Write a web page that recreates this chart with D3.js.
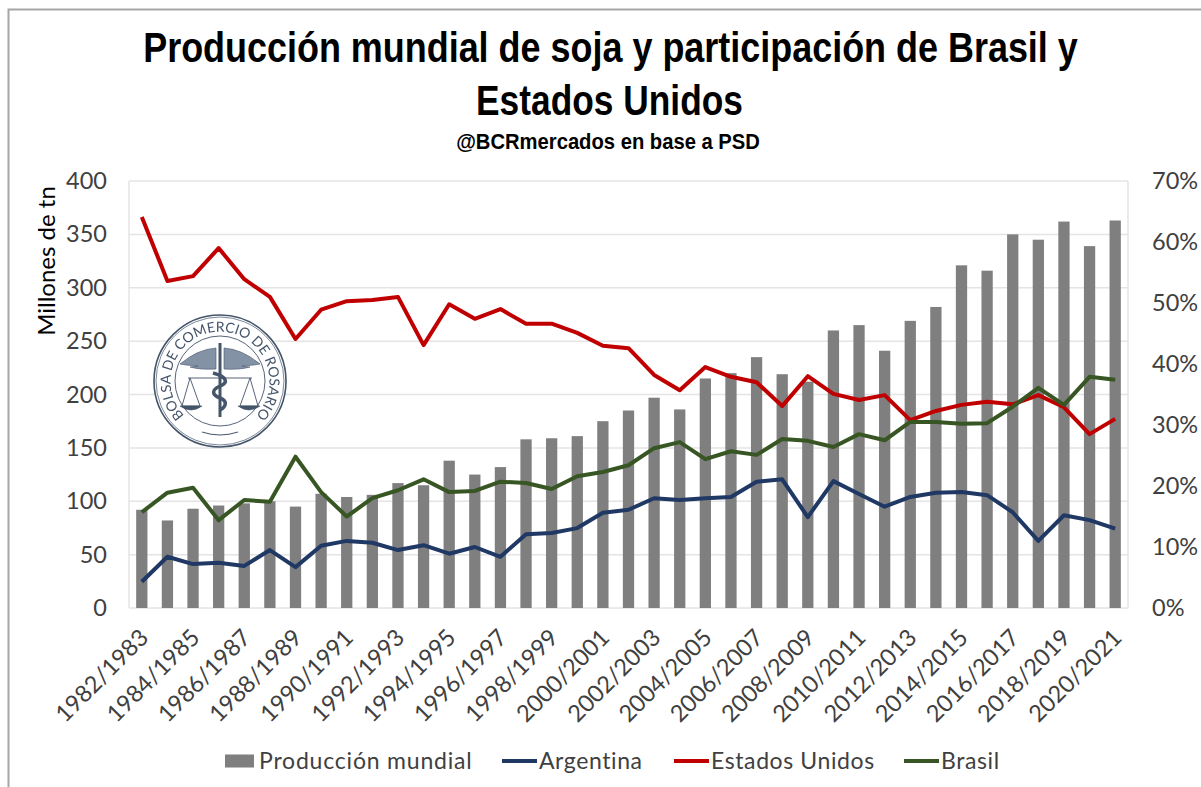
<!DOCTYPE html>
<html>
<head>
<meta charset="utf-8">
<script src="https://cdn.jsdelivr.net/npm/d3@7"></script>
<style>
	body { margin: 0; background: #fff; }
	text { font-family: "Lato", "Open Sans", sans-serif; }
	.title { font-family: "Liberation Sans", sans-serif; font-weight: bold; fill: #000; }
	.axis path, .axis line { display: none; }
	.axis text { font-size: 23.5px; font-family: "Lato", sans-serif; fill: #404040; }
</style>
</head>
<body>
<div id="chart"></div>
<script>
// season labels, one for each bar
var seasons = ["1982/1983","1983/1984","1984/1985","1985/1986","1986/1987","1987/1988","1988/1989","1989/1990","1990/1991","1991/1992","1992/1993","1993/1994","1994/1995","1995/1996","1996/1997","1997/1998","1998/1999","1999/2000","2000/2001","2001/2002","2002/2003","2003/2004","2004/2005","2005/2006","2006/2007","2007/2008","2008/2009","2009/2010","2010/2011","2011/2012","2012/2013","2013/2014","2014/2015","2015/2016","2016/2017","2017/2018","2018/2019","2019/2020","2020/2021"];

// millones de tn
var produccion = [92,82,93,96,98,100,95,107,104,106,117,115,138,125,132,158,159,161,175,185,197,186,215,220,235,219,212,260,265,241,269,282,321,316,350,345,362,339,363];

// participacion, %
var argentina = [4.3,8.4,7.2,7.4,6.9,9.5,6.7,10.2,11.0,10.7,9.5,10.3,8.9,10.0,8.4,12.1,12.3,13.1,15.6,16.1,18.0,17.7,18.0,18.2,20.7,21.1,14.9,20.8,18.7,16.6,18.2,18.9,19.0,18.5,15.7,11.0,15.2,14.4,13.0];
var estadosUnidos = [64.1,53.6,54.4,59.0,53.9,51.0,44.1,48.9,50.3,50.5,51.0,43.1,49.8,47.4,49.0,46.6,46.6,45.1,43.0,42.6,38.2,35.7,39.5,37.9,37.0,33.1,38.0,35.1,34.1,34.9,30.8,32.3,33.3,33.8,33.4,34.9,32.9,28.5,31.0];
var brasil = [15.7,18.9,19.7,14.4,17.7,17.4,24.8,19.0,15.0,18.0,19.3,21.1,19.0,19.2,20.7,20.5,19.5,21.6,22.3,23.4,26.2,27.2,24.4,25.7,25.1,27.7,27.4,26.4,28.5,27.5,30.5,30.5,30.2,30.3,33.0,36.1,33.3,37.9,37.4];

var leftTicks = [0,50,100,150,200,250,300,350,400];
var rightTicks = [0,10,20,30,40,50,60,70];

var lineSeries = [
	{ name: "Argentina", values: argentina, color: "#1f3864" },
	{ name: "Estados Unidos", values: estadosUnidos, color: "#c00000" },
	{ name: "Brasil", values: brasil, color: "#375623" }
];

var width = 1201, height = 787;
var margin = { top: 181, right: 73, bottom: 179, left: 129 };

var svg = d3.select("#chart").append("svg")
	.attr("width", width)
	.attr("height", height)
	.style("display", "block");

// frame of the pasted picture
svg.append("path")
	.attr("d", "M8.5,787V9.5H1201")
	.attr("fill", "none")
	.attr("stroke", "#a6a6a6")
	.attr("stroke-width", 2);

// titles, squeezed sideways because there is no narrow font here
function addTitle(label, cx, y, size, wanted) {
	var t = svg.append("text").attr("class", "title")
		.attr("text-anchor", "middle")
		.style("font-size", size + "px")
		.text(label);
	var squeeze = wanted / t.node().getComputedTextLength();
	t.attr("transform", "translate(" + cx + "," + y + ") scale(" + squeeze + ",1)");
}
addTitle("Producción mundial de soja y participación de Brasil y", 610.5, 62, 42, 935);
addTitle("Estados Unidos", 609.5, 115, 42, 267);
addTitle("@BCRmercados  en base a PSD", 608, 149, 22, 304);

// scales
var x = d3.scaleBand()
	.domain(seasons)
	.range([margin.left, width - margin.right])
	.paddingInner(0.56)
	.paddingOuter(0.28);

var yLeft = d3.scaleLinear().domain([0, 400]).range([height - margin.bottom, margin.top]);
var yRight = d3.scaleLinear().domain([0, 70]).range([height - margin.bottom, margin.top]);

// gridlines
svg.selectAll(".grid").data(leftTicks).enter()
	.append("line").attr("class", "grid")
	.attr("x1", margin.left)
	.attr("x2", width - margin.right)
	.attr("y1", function(d){ return yLeft(d); })
	.attr("y2", function(d){ return yLeft(d); })
	.attr("stroke", "#e4e4e4")
	.attr("stroke-width", 1.5);

svg.selectAll(".side").data([margin.left, width - margin.right]).enter()
	.append("line").attr("class", "side")
	.attr("x1", function(d){ return d; })
	.attr("x2", function(d){ return d; })
	.attr("y1", margin.top)
	.attr("y2", height - margin.bottom)
	.attr("stroke", "#e4e4e4")
	.attr("stroke-width", 1.5);

// seal of the Bolsa, drawn by hand and a bit soft like the pasted logo
var defs = svg.append("defs");
defs.append("filter").attr("id", "soft").append("feGaussianBlur").attr("stdDeviation", 0.5);

var seal = svg.append("g")
	.attr("transform", "translate(220,381)")
	.attr("fill", "none")
	.attr("stroke", "#44546a")
	.attr("filter", "url(#soft)");
seal.append("circle").attr("r", 66).attr("fill", "#fff").attr("stroke-width", 1.6);
seal.append("circle").attr("r", 64).attr("stroke-width", 0.7);
seal.append("circle").attr("r", 45).attr("stroke-width", 0.9);
// wings
seal.append("path")
	.attr("d", "M-40,-17Q-22,-32 -4,-33L-4,-12Q-20,-11 -30,-14L-22,-15L-34,-16ZM40,-17Q22,-32 4,-33L4,-12Q20,-11 30,-14L22,-15L34,-16Z")
	.attr("fill", "#8492a6").attr("stroke-width", 0.6);
// staff and snake
seal.append("line").attr("y1", -38).attr("y2", 36).attr("stroke-width", 3);
seal.append("path")
	.attr("d", "M-7,-8C8,-4 8,2 0,5C-9,9 -8,14 0,17C8,20 6,26 0,29")
	.attr("stroke-width", 3.5);
// scales
seal.append("path").attr("d", "M-32,-3H32M-30,-3L-38,25H-20L-30,-3M30,-3L20,25H38L30,-3").attr("stroke-width", 0.9);
seal.append("path").attr("d", "M-40,25Q-29,33 -18,25ZM18,25Q29,33 40,25Z").attr("fill", "#44546a").attr("stroke-width", 0.6);
seal.append("path").attr("d", "M-18,51Q0,57 18,51").attr("stroke-width", 1);
seal.append("path").attr("id", "seal-arc").attr("stroke", "none").attr("d", "M-28,41A49.5,49.5 0 1 1 28,41");
seal.append("text").attr("fill", "#44546a").attr("stroke", "none").style("font-size", "14px")
	.append("textPath").attr("href", "#seal-arc").attr("startOffset", "50%").attr("text-anchor", "middle")
	.text("BOLSA DE COMERCIO DE ROSARIO");

// bars
svg.selectAll(".bar").data(produccion).enter()
	.append("rect").attr("class", "bar")
	.attr("x", function(d, i){ return x(seasons[i]); })
	.attr("y", function(d){ return yLeft(d); })
	.attr("width", x.bandwidth())
	.attr("height", function(d){ return yLeft(0) - yLeft(d); })
	.attr("fill", "#7f7f7f");

// lines on the secondary axis
var line = d3.line()
	.x(function(d, i){ return x(seasons[i]) + x.bandwidth() / 2; })
	.y(function(d){ return yRight(d); });

svg.selectAll(".series").data(lineSeries).enter()
	.append("path").attr("class", "series")
	.attr("d", function(d){ return line(d.values); })
	.attr("fill", "none")
	.attr("stroke", function(d){ return d.color; })
	.attr("stroke-width", 4)
	.attr("stroke-linejoin", "round");

// axes
svg.append("g").attr("class", "axis")
	.attr("transform", "translate(" + (margin.left - 22) + ",0)")
	.call(d3.axisLeft(yLeft).tickValues(leftTicks).tickSize(0).tickPadding(0));

svg.append("g").attr("class", "axis")
	.attr("transform", "translate(" + (width - margin.right + 24) + ",0)")
	.call(d3.axisRight(yRight).tickValues(rightTicks).tickSize(0).tickPadding(0).tickFormat(function(d){ return d + "%"; }));

var xAxis = svg.append("g").attr("class", "axis")
	.attr("transform", "translate(0," + (height - margin.bottom) + ")")
	.call(d3.axisBottom(x).tickValues(seasons.filter(function(d, i){ return i % 2 == 0; })).tickSize(0).tickPadding(0));

xAxis.selectAll("text")
	.attr("text-anchor", "end")
	.attr("dy", 0)
	.attr("y", 0)
	.attr("transform", "translate(8,31) rotate(-45)");

svg.append("text")
	.attr("transform", "translate(55,261) rotate(-90)")
	.attr("text-anchor", "middle")
	.style("font-size", "24px")
	.attr("fill", "#000")
	.text("Millones de tn");

// legend
var legendY = 761;
var legendFont = "23px";
svg.append("rect").attr("x", 225).attr("y", legendY - 6.5).attr("width", 29).attr("height", 13).attr("fill", "#7f7f7f");
svg.append("text").attr("x", 259).attr("y", legendY + 8)
	.style("font-size", legendFont).style("letter-spacing", "0.8px")
	.attr("fill", "#404040").text("Producción mundial");

var legendItems = svg.selectAll(".legend-item").data(lineSeries).enter()
	.append("g").attr("class", "legend-item")
	.attr("transform", function(d, i){ return "translate(" + [502, 674, 904][i] + "," + legendY + ")"; });
legendItems.append("line").attr("x1", 0).attr("x2", 35)
	.attr("stroke", function(d){ return d.color; })
	.attr("stroke-width", 4);
legendItems.append("text").attr("x", 37).attr("y", 8)
	.style("font-size", legendFont).style("letter-spacing", "0.6px")
	.attr("fill", "#404040")
	.text(function(d){ return d.name; });
</script>
</body>
</html>
